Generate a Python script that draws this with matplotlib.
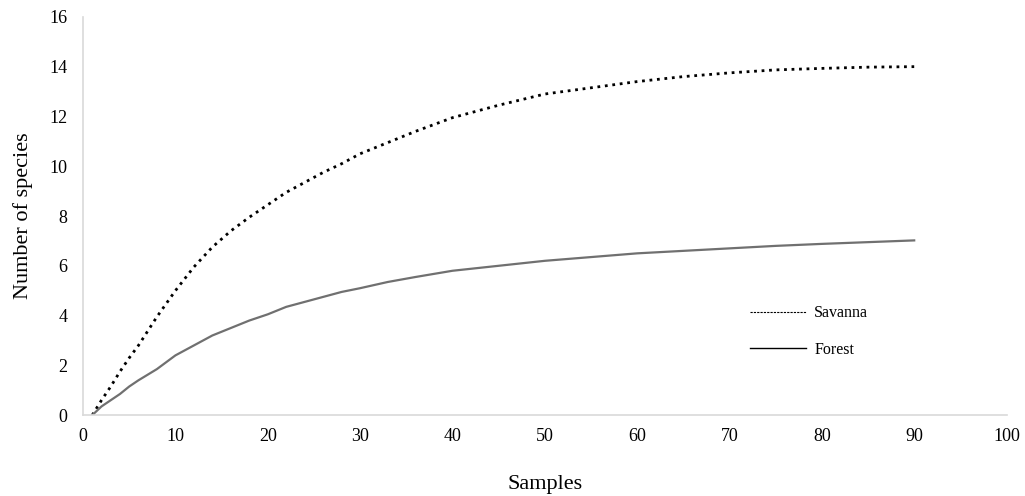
import numpy as np
import matplotlib.pyplot as plt
from matplotlib.lines import Line2D

plt.rcParams['font.family'] = ['Liberation Serif', 'DejaVu Serif']

# samples at which the curves were read
samples = [1, 2, 3, 4, 5, 6, 8, 10, 12, 14, 16, 18, 20, 22, 24, 26, 28, 30,
           33, 36, 40, 45, 50, 55, 60, 65, 70, 75, 80, 85, 90]
savanna = [0, 0.6, 1.15, 1.75, 2.3, 2.8, 3.95, 5.0, 5.95, 6.75, 7.4, 7.95,
           8.45, 8.95, 9.35, 9.75, 10.1, 10.5, 10.95, 11.4, 11.95, 12.45,
           12.9, 13.15, 13.4, 13.6, 13.75, 13.87, 13.93, 13.98, 14.0]
forest = [0, 0.35, 0.6, 0.85, 1.15, 1.4, 1.85, 2.4, 2.8, 3.2, 3.5, 3.8,
          4.05, 4.35, 4.55, 4.75, 4.95, 5.1, 5.35, 5.55, 5.8, 6.0, 6.2,
          6.35, 6.5, 6.6, 6.7, 6.8, 6.88, 6.95, 7.02]

x_ticks = np.arange(0, 101, 10)
y_ticks = np.arange(0, 17, 2)

fig = plt.figure(figsize=(10.25, 4.96), dpi=100)
ax = fig.add_axes([0.081, 0.163, 0.901, 0.803])

ax.plot(samples, savanna, color='black', linestyle=(0, (1, 1.7)), linewidth=2.0)
ax.plot(samples, forest, color='#707070', linewidth=1.6)

ax.set_xlim(0, 100)
ax.set_ylim(0, 16)
ax.set_xticks(x_ticks)
ax.set_yticks(y_ticks)
ax.tick_params(length=0, labelsize=13)
ax.tick_params(axis='x', pad=9)
ax.tick_params(axis='y', pad=11)

for s in ['top', 'right']:
    ax.spines[s].set_visible(False)
for s in ['left', 'bottom']:
    ax.spines[s].set_color('#d9d9d9')
    ax.spines[s].set_linewidth(1.2)

ax.set_xlabel('Samples', fontsize=16, labelpad=22)
ax.set_ylabel('Number of species', fontsize=16, labelpad=12)

handles = [Line2D([], [], color='black', linestyle=(0, (2, 1)), linewidth=0.8),
           Line2D([], [], color='black', linewidth=1.0)]
ax.legend(handles, ['Savanna', 'Forest'], loc='center left',
          bbox_to_anchor=(0.707, 0.21), frameon=False, fontsize=11.5,
          handlelength=3.5, handletextpad=0.5, labelspacing=1.3)

fig.savefig('out.png', dpi=100)
